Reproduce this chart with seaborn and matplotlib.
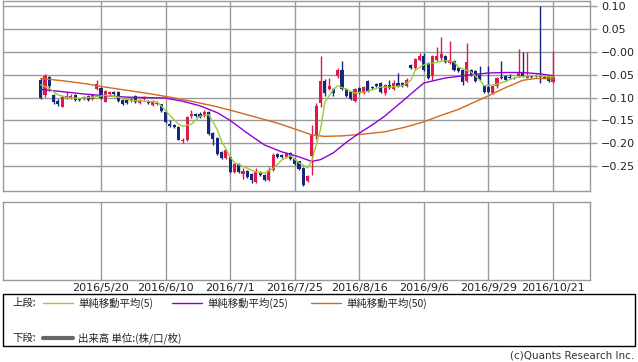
import matplotlib
matplotlib.use("Agg")
import matplotlib.pyplot as plt
import seaborn as sns
import numpy as np
import pandas as pd
from matplotlib.patches import Rectangle
from matplotlib.lines import Line2D

# ---------------- data ----------------
date_labels = ["2016/5/20", "2016/6/10", "2016/7/1", "2016/7/25",
               "2016/8/16", "2016/9/6", "2016/9/29", "2016/10/21"]
date_index = [14, 29, 44, 59, 74, 89, 104, 119]

opens = [-0.062, -0.095, -0.055, -0.094, -0.108, -0.120, -0.100, -0.101, -0.094, -0.102,
         -0.104, -0.096, -0.104, -0.082, -0.078, -0.109, -0.092, -0.087, -0.088, -0.106,
         -0.105, -0.108, -0.097, -0.111, -0.103, -0.108, -0.117, -0.115, -0.115, -0.131,
         -0.157, -0.160, -0.165, -0.195, -0.194, -0.141, -0.135, -0.135, -0.140, -0.131,
         -0.178, -0.189, -0.220, -0.232, -0.230, -0.263, -0.245, -0.268, -0.260, -0.268,
         -0.285, -0.263, -0.270, -0.280, -0.258, -0.224, -0.226, -0.230, -0.222, -0.234,
         -0.240, -0.255, -0.283, -0.228, -0.183, -0.112, -0.064, -0.081, -0.082, -0.053,
         -0.039, -0.081, -0.088, -0.107, -0.079, -0.090, -0.064, -0.076, -0.070, -0.068,
         -0.091, -0.072, -0.082, -0.068, -0.068, -0.074, -0.028, -0.035, -0.017, -0.008,
         -0.024, -0.053, -0.017, -0.013, -0.008, -0.024, -0.020, -0.036, -0.039, -0.064,
         -0.039, -0.042, -0.050, -0.075, -0.077, -0.090, -0.075, -0.055, -0.053, -0.055,
         -0.056, -0.053, -0.043, -0.056, -0.052, -0.050, -0.052, -0.054, -0.055, -0.066]
closes = [-0.100, -0.053, -0.075, -0.109, -0.113, -0.099, -0.096, -0.097, -0.106, -0.106,
          -0.098, -0.106, -0.095, -0.070, -0.100, -0.086, -0.088, -0.092, -0.108, -0.114,
          -0.111, -0.103, -0.110, -0.106, -0.101, -0.112, -0.108, -0.112, -0.130, -0.153,
          -0.163, -0.165, -0.192, -0.192, -0.142, -0.137, -0.141, -0.143, -0.131, -0.180,
          -0.190, -0.223, -0.232, -0.215, -0.263, -0.245, -0.263, -0.262, -0.274, -0.281,
          -0.261, -0.270, -0.280, -0.258, -0.226, -0.230, -0.230, -0.224, -0.234, -0.245,
          -0.256, -0.291, -0.272, -0.181, -0.119, -0.064, -0.090, -0.074, -0.091, -0.040,
          -0.082, -0.097, -0.104, -0.082, -0.090, -0.077, -0.086, -0.080, -0.075, -0.087,
          -0.072, -0.080, -0.068, -0.074, -0.074, -0.062, -0.035, -0.015, -0.008, -0.039,
          -0.057, -0.009, -0.008, -0.004, -0.023, -0.017, -0.039, -0.041, -0.066, -0.023,
          -0.050, -0.064, -0.060, -0.087, -0.087, -0.075, -0.057, -0.057, -0.061, -0.057,
          -0.058, -0.044, -0.053, -0.052, -0.055, -0.053, -0.054, -0.056, -0.064, -0.055]
highs = [-0.057, -0.048, -0.052, -0.092, -0.104, -0.095, -0.088, -0.093, -0.092, -0.100,
         -0.096, -0.094, -0.093, -0.061, -0.076, -0.084, -0.085, -0.085, -0.086, -0.104,
         -0.103, -0.100, -0.095, -0.104, -0.096, -0.106, -0.106, -0.108, -0.113, -0.129,
         -0.150, -0.158, -0.163, -0.188, -0.140, -0.128, -0.133, -0.132, -0.127, -0.129,
         -0.175, -0.187, -0.218, -0.213, -0.228, -0.243, -0.243, -0.255, -0.258, -0.266,
         -0.255, -0.261, -0.268, -0.252, -0.222, -0.222, -0.224, -0.219, -0.220, -0.232,
         -0.238, -0.253, -0.270, -0.159, -0.112, -0.008, -0.060, -0.058, -0.078, -0.035,
         -0.020, -0.079, -0.086, -0.080, -0.077, -0.074, -0.062, -0.074, -0.068, -0.066,
         -0.070, -0.061, -0.061, -0.047, -0.066, -0.058, -0.026, -0.013, -0.002, -0.002,
         -0.022, -0.007, 0.012, 0.033, -0.006, 0.023, -0.018, -0.034, -0.037, 0.020,
         -0.037, -0.040, -0.030, -0.073, -0.030, -0.073, -0.055, -0.020, -0.051, -0.048,
         -0.054, 0.006, -0.001, -0.001, -0.050, -0.048, 0.100, -0.052, -0.053, 0.003]
lows = [-0.103, -0.098, -0.085, -0.113, -0.118, -0.121, -0.103, -0.104, -0.108, -0.108,
        -0.106, -0.108, -0.105, -0.084, -0.102, -0.110, -0.094, -0.094, -0.110, -0.116,
        -0.113, -0.110, -0.112, -0.113, -0.105, -0.114, -0.118, -0.117, -0.132, -0.155,
        -0.165, -0.167, -0.194, -0.200, -0.196, -0.145, -0.143, -0.145, -0.142, -0.182,
        -0.204, -0.225, -0.234, -0.234, -0.265, -0.265, -0.265, -0.278, -0.277, -0.287,
        -0.287, -0.272, -0.282, -0.282, -0.260, -0.232, -0.232, -0.232, -0.236, -0.247,
        -0.258, -0.293, -0.286, -0.270, -0.190, -0.120, -0.097, -0.083, -0.097, -0.056,
        -0.084, -0.099, -0.106, -0.109, -0.092, -0.093, -0.088, -0.082, -0.077, -0.089,
        -0.095, -0.082, -0.084, -0.076, -0.076, -0.076, -0.037, -0.037, -0.019, -0.041,
        -0.059, -0.062, -0.019, -0.017, -0.025, -0.026, -0.041, -0.043, -0.072, -0.066,
        -0.052, -0.066, -0.062, -0.090, -0.089, -0.092, -0.078, -0.060, -0.063, -0.059,
        -0.060, -0.055, -0.055, -0.058, -0.057, -0.055, -0.068, -0.058, -0.066, -0.069]

ma5_index = [0, 2, 4, 6, 9, 13, 15, 18, 21, 24, 27, 28, 30, 32, 33, 35, 37, 39, 41, 42,
             44, 45, 48, 50, 52, 54, 56, 58, 60, 62, 63, 65, 66, 68, 69, 71, 73, 76, 79,
             81, 84, 86, 87, 89, 91, 94, 96, 97, 100, 102, 103, 106, 108, 110, 113, 116, 119]
ma5_values = [-0.072, -0.080, -0.094, -0.100, -0.102, -0.098, -0.095, -0.099, -0.106, -0.108,
              -0.109, -0.118, -0.139, -0.158, -0.163, -0.158, -0.141, -0.137, -0.170, -0.195,
              -0.230, -0.243, -0.255, -0.263, -0.266, -0.255, -0.237, -0.227, -0.243, -0.254,
              -0.238, -0.170, -0.110, -0.082, -0.074, -0.082, -0.090, -0.086, -0.077,
              -0.077, -0.074, -0.062, -0.040, -0.028, -0.024, -0.019, -0.021, -0.033, -0.044,
              -0.062, -0.074, -0.071, -0.064, -0.057, -0.052, -0.052, -0.055]

ma25_index = [0, 5, 10, 15, 20, 25, 29, 33, 37, 41, 44, 48, 52, 56, 60, 63, 65, 68, 71,
              74, 77, 80, 83, 86, 89, 94, 100, 104, 108, 112, 116, 119]
ma25_values = [-0.082, -0.087, -0.092, -0.096, -0.099, -0.100, -0.101, -0.108, -0.118,
               -0.133, -0.150, -0.178, -0.204, -0.219, -0.230, -0.240, -0.236, -0.221,
               -0.198, -0.178, -0.160, -0.140, -0.116, -0.092, -0.068, -0.057, -0.050,
               -0.046, -0.045, -0.045, -0.048, -0.052]

ma50_index = [0, 5, 10, 15, 20, 25, 30, 35, 40, 45, 50, 55, 60, 63, 66, 70, 75, 80, 85,
              89, 93, 97, 100, 104, 108, 112, 115, 119]
ma50_values = [-0.058, -0.063, -0.069, -0.077, -0.084, -0.091, -0.099, -0.108, -0.118,
               -0.130, -0.143, -0.156, -0.172, -0.182, -0.185, -0.184, -0.180, -0.175,
               -0.164, -0.153, -0.139, -0.126, -0.113, -0.096, -0.078, -0.062, -0.058, -0.059]

y_ticks = [0.10, 0.05, 0.00, -0.05, -0.10, -0.15, -0.20, -0.25]
y_tick_labels = ["0.10", "0.05", "\u22120.00", "\u22120.05", "\u22120.10",
                 "\u22120.15", "\u22120.20", "\u22120.25"]

legend_labels = ["単純移動平均(5)", "単純移動平均(25)", "単純移動平均(50)"]
row_labels = ["上段:", "下段:"]
volume_label = "出来高 単位:(株/口/枚)"
copyright_text = "(c)Quants Research Inc."

# ---------------- style ----------------
sns.set_style("white")
plt.rcParams["font.family"] = ["DejaVu Sans", "Noto Sans CJK JP"]
CJK = ["Noto Sans CJK JP", "DejaVu Sans"]

W, H = 638, 362
UP = "#e0194b"
DOWN = "#15287e"
GRID = "#9a9a9a"
C5, C25, C50 = "#9acd32", "#9400d3", "#d2691e"

fig = plt.figure(figsize=(W / 100, H / 100), dpi=100)
fig.patch.set_facecolor("white")

def fx(px):
    return px / W

def fy(py):
    return 1 - py / H

x_lo, x_hi = -8.76, 127.6
ax1 = fig.add_axes([fx(3), fy(191), fx(587), 190 / H])
ax2 = fig.add_axes([fx(3), fy(280), fx(587), 78 / H])

# ---------------- candles ----------------
df = pd.DataFrame({"i": np.arange(len(opens)), "open": opens, "close": closes,
                   "high": highs, "low": lows})
df["up"] = df["close"] >= df["open"]
df["color"] = np.where(df["up"], UP, DOWN)
df["bottom"] = df[["open", "close"]].min(axis=1)
df["height"] = (df["close"] - df["open"]).abs().clip(lower=0.0018)

ax1.vlines(df["i"], df["low"], df["high"], colors=df["color"], lw=1, zorder=2)
ax1.bar(df["i"], df["height"], bottom=df["bottom"], width=0.72,
        color=df["color"], linewidth=0, zorder=2)

# ---------------- moving averages ----------------
for idx, vals, col in [(ma50_index, ma50_values, C50),
                       (ma25_index, ma25_values, C25),
                       (ma5_index, ma5_values, C5)]:
    sns.lineplot(x=idx, y=vals, ax=ax1, color=col, lw=1, zorder=3,
                 estimator=None, sort=False)

# ---------------- axes styling ----------------
ax1.set_xlim(x_lo, x_hi)
ax1.set_ylim(-0.3048, 0.1118)
ax1.set_yticks(y_ticks)
ax1.set_yticklabels(y_tick_labels)
ax1.yaxis.tick_right()
ax1.tick_params(axis="y", length=5, color=GRID, width=1, labelsize=8, pad=3,
                labelcolor="#222222")
ax1.set_xticks(date_index)
ax1.set_xticklabels([])
ax1.tick_params(axis="x", length=0)
ax1.grid(True, color=GRID, lw=1)
ax1.set_axisbelow(True)
ax1.set_xlabel("")
ax1.set_ylabel("")

ax2.set_xlim(x_lo, x_hi)
ax2.set_ylim(0, 1)
ax2.set_yticks([])
ax2.set_xticks(date_index)
ax2.set_xticklabels(date_labels)
ax2.tick_params(axis="x", length=0, labelsize=8, pad=2, labelcolor="#222222")
ax2.grid(True, axis="x", color=GRID, lw=1)
ax2.set_axisbelow(True)

for ax in (ax1, ax2):
    for s in ax.spines.values():
        s.set_visible(True)
        s.set_color(GRID)
        s.set_linewidth(1)

# ---------------- legend box ----------------
fig.add_artist(Rectangle((fx(3), fy(346)), fx(632), 52 / H, transform=fig.transFigure,
                         fill=False, ec="black", lw=1))

row1, row2 = 303, 338
fig.text(fx(12), fy(row1), row_labels[0], va="center", ha="left", fontsize=7.5,
         family=CJK, color="#222222")
fig.text(fx(12), fy(row2), row_labels[1], va="center", ha="left", fontsize=7.5,
         family=CJK, color="#222222")

items = [(43, C5, legend_labels[0]), (172, C25, legend_labels[1]), (311, C50, legend_labels[2])]
for x0, col, lab in items:
    fig.add_artist(Line2D([fx(x0), fx(x0 + 30)], [fy(row1), fy(row1)],
                          transform=fig.transFigure, color=col, lw=1))
    fig.text(fx(x0 + 35), fy(row1), lab, va="center", ha="left", fontsize=7.5,
             family=CJK, color="#222222")

fig.add_artist(Line2D([fx(43), fx(73)], [fy(row2), fy(row2)],
                      transform=fig.transFigure, color="#666666", lw=3))
fig.text(fx(78), fy(row2), volume_label, va="center", ha="left", fontsize=7.5,
         family=CJK, color="#222222")

fig.text(fx(634), fy(355), copyright_text, va="center", ha="right", fontsize=7.5,
         color="#333333")

fig.savefig("out.png", dpi=100)
